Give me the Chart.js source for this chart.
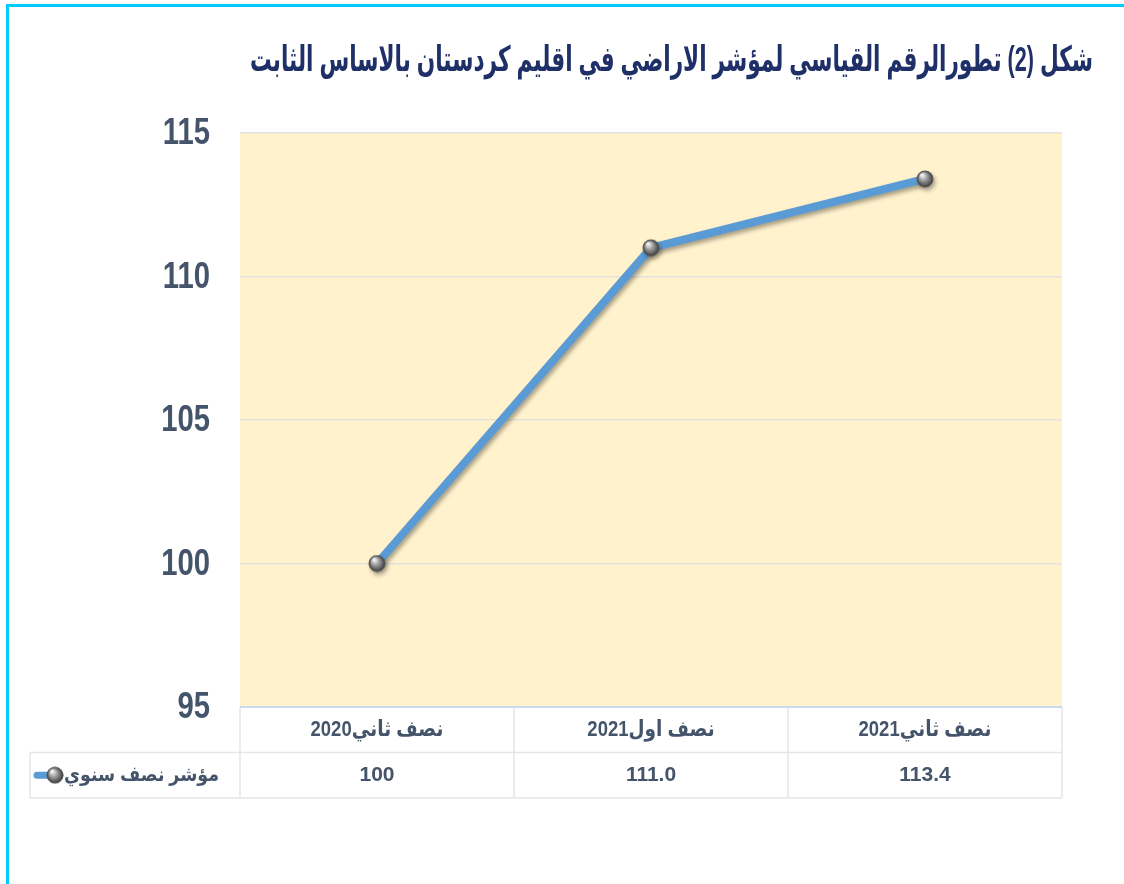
<!DOCTYPE html>
<html>
<head>
<meta charset="utf-8">
<script src="https://cdn.jsdelivr.net/npm/chart.js@4/dist/chart.umd.min.js"></script>
<style>
  body { margin: 0; background: #ffffff; }
  canvas { display: block; }
</style>
</head>
<body>
<canvas id="chart" width="1124" height="884"></canvas>
<script>
const titleText = 'شكل (2) تطورالرقم القياسي لمؤشر الاراضي في اقليم كردستان بالاساس الثابت';
const categories = ['نصف ثاني2020', 'نصف اول2021', 'نصف ثاني2021'];
const seriesName = 'مؤشر نصف سنوي';
const seriesValues = [100, 111.0, 113.4];
const valueLabels = ['100', '111.0', '113.4'];
const yTicks = [95, 100, 105, 110, 115];

const textColor = '#44546A';
const arabicFont = "'Liberation Sans', 'DejaVu Sans', sans-serif";

// grey sphere used as point marker
function makeSphere(r) {
    const c = document.createElement('canvas');
    c.width = r * 2 + 2;
    c.height = r * 2 + 2;
    const g = c.getContext('2d');
    const grad = g.createRadialGradient(r - 2, r - 3, 1, r + 1, r + 1, r);
    grad.addColorStop(0, '#f0f0f0');
    grad.addColorStop(0.45, '#9a9a9a');
    grad.addColorStop(1, '#3c3c3c');
    g.fillStyle = grad;
    g.beginPath();
    g.arc(r + 1, r + 1, r, 0, Math.PI * 2);
    g.fill();
    g.strokeStyle = '#555555';
    g.lineWidth = 1;
    g.stroke();
    return c;
}
const sphere = makeSphere(8);

// draw text squeezed horizontally a bit (the original font is narrower)
function squeezed(ctx, txt, x, y, k) {
    const w = ctx.measureText(txt).width;
    ctx.fillText(txt, x, y, w * k);
}

const framePlugin = {
    id: 'frame',
    beforeDraw(chart) {
        const ctx = chart.ctx;
        const a = chart.chartArea;
        ctx.save();
        ctx.fillStyle = '#FFF2CC';
        ctx.fillRect(a.left, a.top, a.right - a.left, a.bottom - a.top);
        ctx.restore();
    },
    beforeDatasetsDraw(chart) {
        const ctx = chart.ctx;
        ctx.save();
        ctx.shadowColor = 'rgba(0,0,0,0.35)';
        ctx.shadowBlur = 4;
        ctx.shadowOffsetX = 2;
        ctx.shadowOffsetY = 3;
    },
    afterDatasetsDraw(chart) {
        chart.ctx.restore();
    },
    afterDraw(chart) {
        const ctx = chart.ctx;
        const a = chart.chartArea;
        const x = chart.scales.x;
        const y = chart.scales.y;
        const colW = (a.right - a.left) / categories.length;
        const rowH = 45.5;
        const r1 = a.bottom;
        const r2 = r1 + rowH;
        const r3 = r2 + rowH;
        const legendLeft = 30;

        ctx.save();
        // cyan page frame
        ctx.strokeStyle = '#00CCFF';
        ctx.lineWidth = 3;
        ctx.beginPath();
        ctx.moveTo(7.5, 884);
        ctx.lineTo(7.5, 5.5);
        ctx.lineTo(1124, 5.5);
        ctx.stroke();

        // title
        ctx.direction = 'rtl';
        ctx.textAlign = 'right';
        ctx.textBaseline = 'middle';
        ctx.fillStyle = '#1F3068';
        ctx.font = 'bold 35px ' + arabicFont;
        ctx.fillText(titleText, 1093, 61, 843);

        // y tick labels
        ctx.direction = 'ltr';
        ctx.fillStyle = textColor;
        ctx.font = 'bold 37px ' + arabicFont;
        yTicks.forEach(v => {
            squeezed(ctx, String(v), 210, y.getPixelForValue(v) + 1, 0.79);
        });

        // data table grid
        ctx.strokeStyle = '#E3E6EA';
        ctx.lineWidth = 1.5;
        ctx.beginPath();
        ctx.moveTo(legendLeft, r2); ctx.lineTo(a.right, r2);
        ctx.moveTo(legendLeft, r3); ctx.lineTo(a.right, r3);
        ctx.moveTo(legendLeft, r2); ctx.lineTo(legendLeft, r3);
        for (let i = 0; i <= categories.length; i++) {
            const cx = a.left + i * colW;
            ctx.moveTo(cx, r1); ctx.lineTo(cx, r3);
        }
        ctx.stroke();

        // plot bottom border
        ctx.strokeStyle = '#C9DCEF';
        ctx.lineWidth = 2;
        ctx.beginPath();
        ctx.moveTo(a.left, a.bottom); ctx.lineTo(a.right, a.bottom);
        ctx.stroke();

        // table text
        ctx.direction = 'rtl';
        ctx.fillStyle = textColor;
        ctx.textAlign = 'center';
        ctx.font = 'bold 22px ' + arabicFont;
        categories.forEach((c, i) => {
            squeezed(ctx, c, x.getPixelForValue(i), (r1 + r2) / 2, 0.84);
        });
        ctx.font = 'bold 21px ' + arabicFont;
        valueLabels.forEach((v, i) => {
            ctx.fillText(v, x.getPixelForValue(i), (r2 + r3) / 2);
        });

        // legend cell
        ctx.textAlign = 'right';
        ctx.font = 'bold 20px ' + arabicFont;
        const ly = (r2 + r3) / 2;
        ctx.fillText(seriesName, 219, ly, 155);
        ctx.strokeStyle = '#5B9BD5';
        ctx.lineWidth = 7;
        ctx.lineCap = 'round';
        ctx.beginPath();
        ctx.moveTo(37, ly); ctx.lineTo(60, ly);
        ctx.stroke();
        ctx.drawImage(sphere, 55 - sphere.width / 2, ly - sphere.height / 2);
        ctx.restore();
    }
};

new Chart(document.getElementById('chart'), {
    type: 'line',
    data: {
        labels: categories,
        datasets: [{
            label: seriesName,
            data: seriesValues,
            borderColor: '#5B9BD5',
            borderWidth: 8,
            pointStyle: sphere,
            pointRadius: 8,
            tension: 0
        }]
    },
    options: {
        responsive: false,
        animation: false,
        layout: { padding: { top: 133, right: 62, bottom: 177, left: 0 } },
        plugins: {
            legend: { display: false },
            tooltip: { enabled: false }
        },
        scales: {
            x: {
                display: false,
                offset: true
            },
            y: {
                min: 95,
                max: 115,
                afterFit(s) { s.width = 240; },
                afterBuildTicks(s) { s.ticks = yTicks.map(v => ({ value: v })); },
                border: { display: false },
                grid: {
                    color: '#E4E2DC',
                    lineWidth: 1.5,
                    drawTicks: false,
                    tickLength: 0
                },
                ticks: { display: false }
            }
        }
    },
    plugins: [framePlugin]
});
</script>
</body>
</html>
